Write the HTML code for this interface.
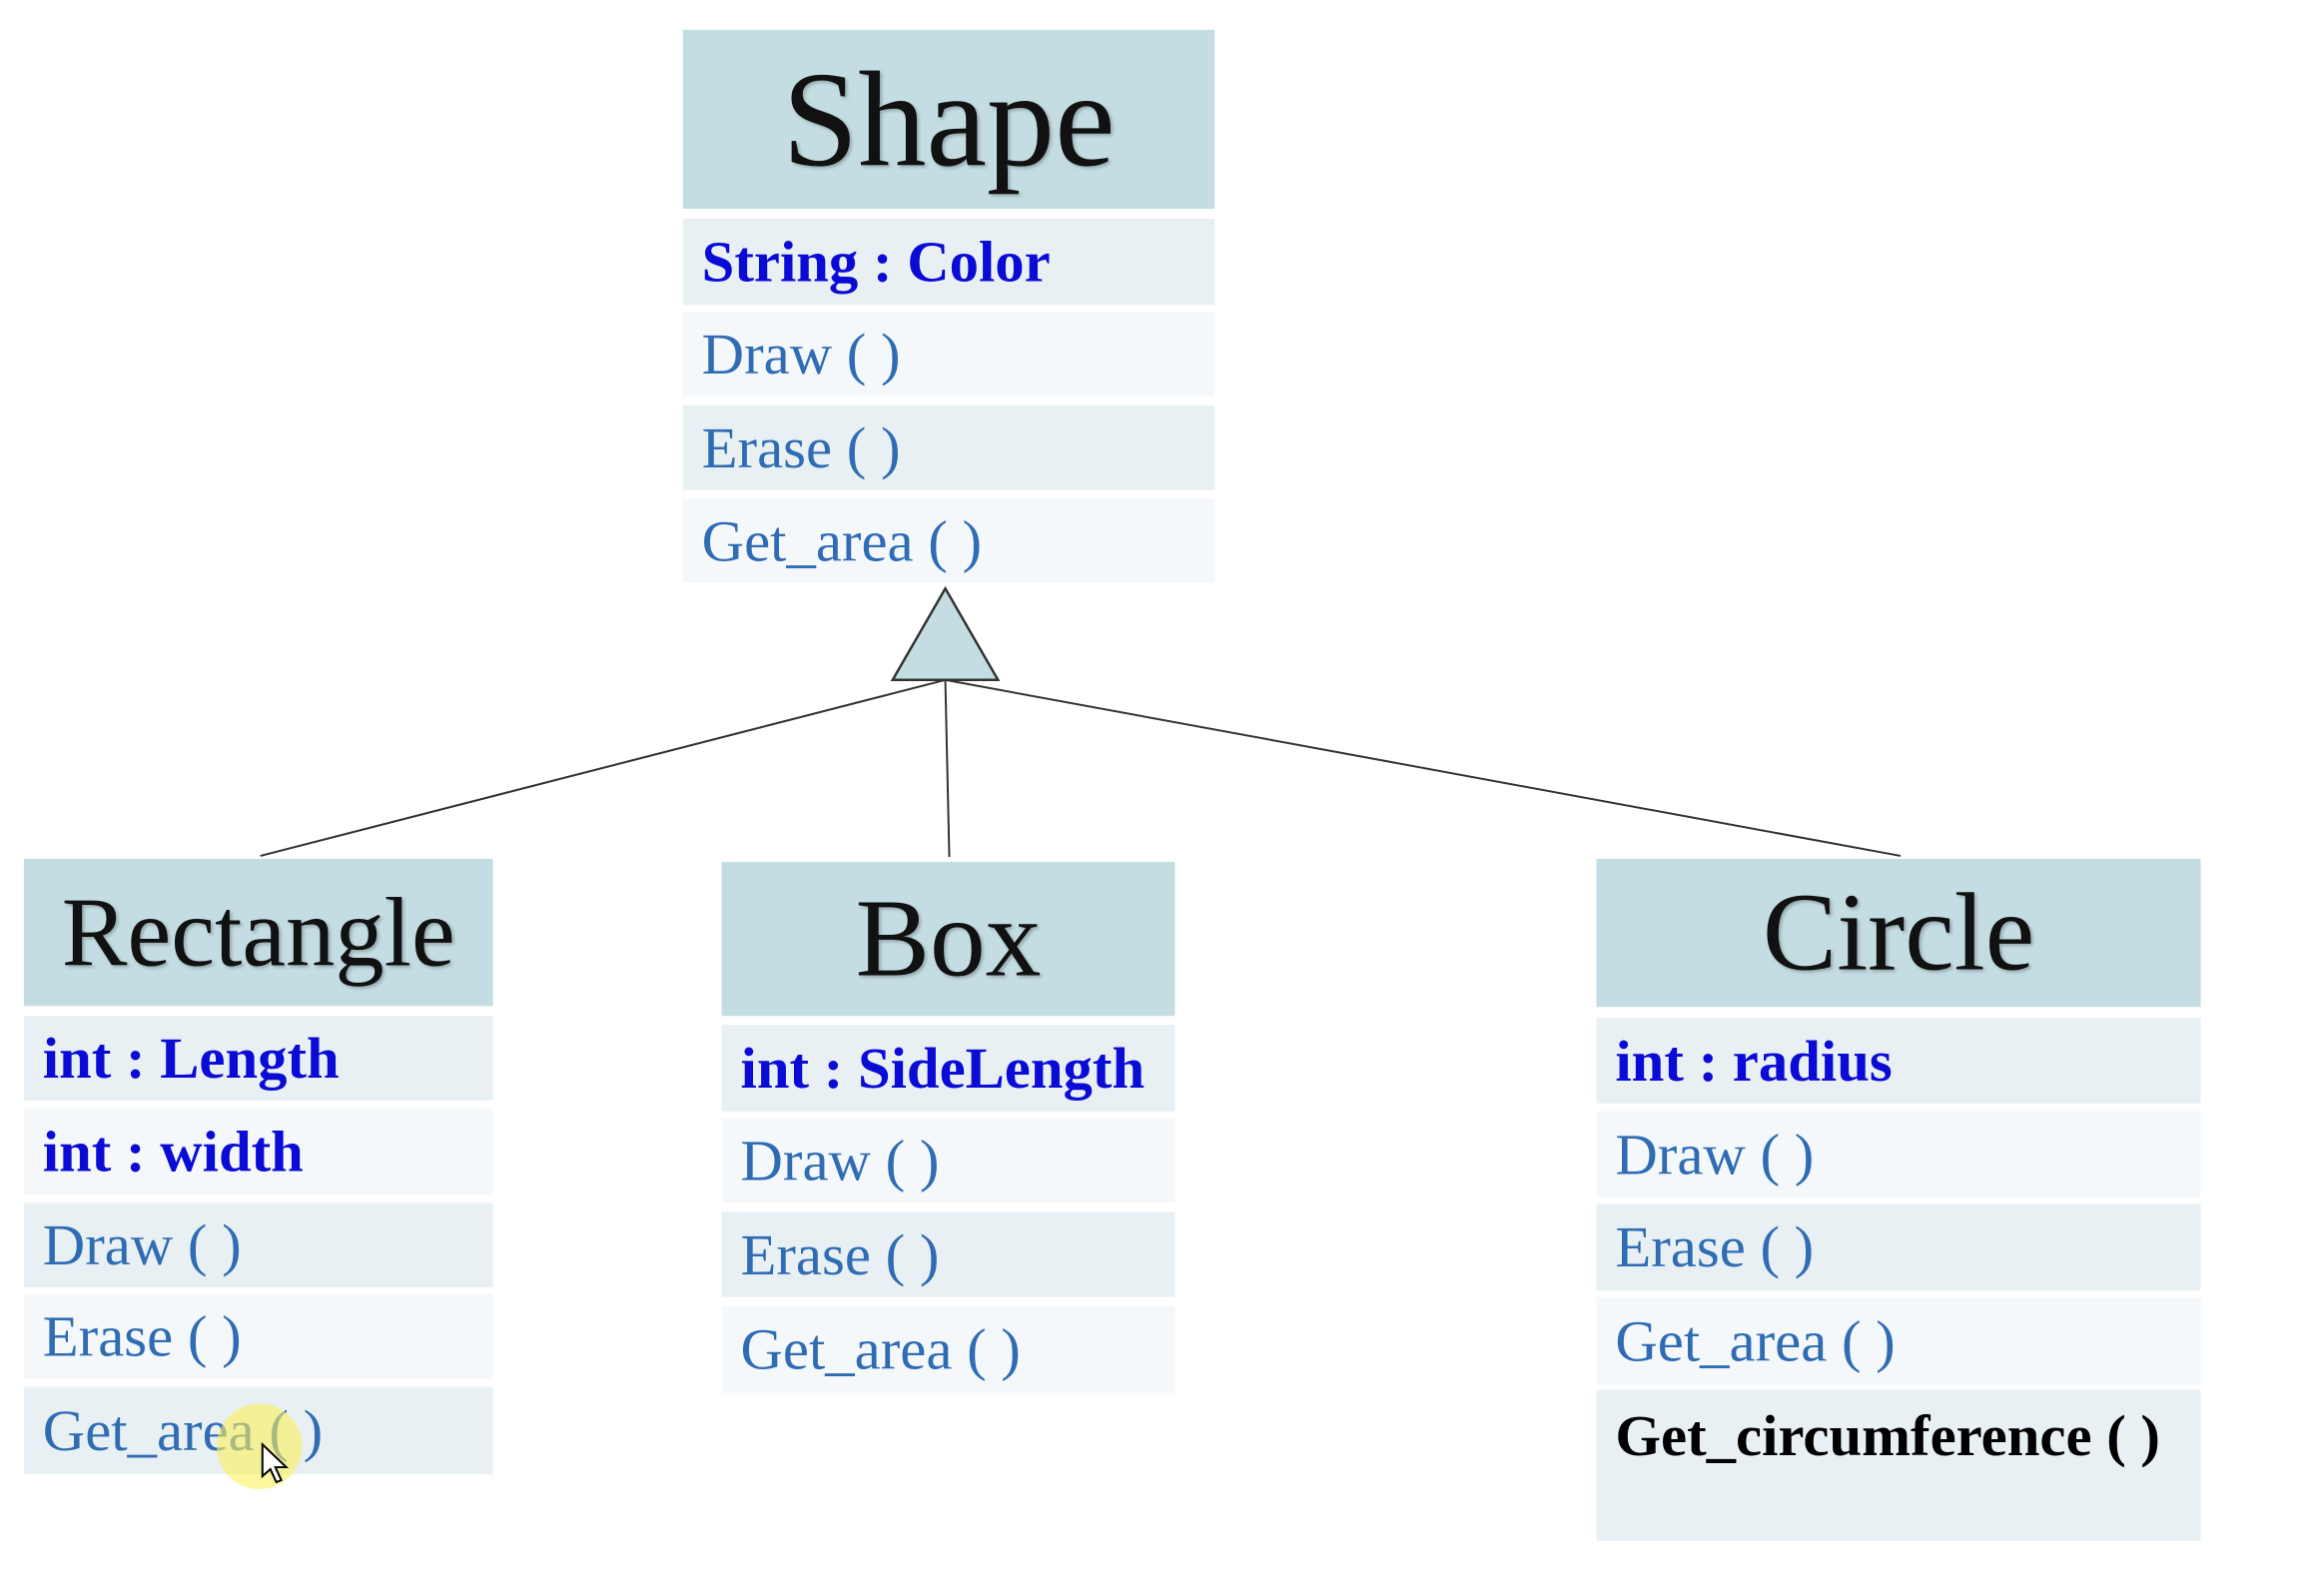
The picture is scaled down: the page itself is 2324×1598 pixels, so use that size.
<!DOCTYPE html>
<html><head><meta charset="utf-8"><style>
body{margin:0;width:2324px;height:1598px;background:#fff;position:relative;overflow:hidden;font-family:"Liberation Serif",serif}
#w{position:absolute;left:0;top:0;width:2324px;height:1598px;transform:scale(0.9953);transform-origin:0 0}
.h{position:absolute;background:#c4dde3;display:flex;align-items:center;justify-content:center;color:#111;text-shadow:2px 2px 3px rgba(0,0,0,.25)}
.r{position:absolute;display:flex;align-items:center;box-sizing:border-box;padding-left:19px;font-size:59px;color:#2f6cb3;white-space:nowrap}
.a{background:#e9f0f4}.b{background:#f4f8fb}
.f{color:#0b0bd6;font-weight:bold}
.k{color:#000;font-weight:bold}
</style></head><body><div id="w">
<svg style="position:absolute;left:0;top:0" width="2324" height="1598">
<line x1="951" y1="684" x2="262" y2="861" stroke="#333" stroke-width="2"/>
<line x1="951" y1="684" x2="955" y2="862" stroke="#333" stroke-width="2"/>
<line x1="951" y1="684" x2="1912" y2="861" stroke="#333" stroke-width="2"/>
<polygon points="951,592 898,684 1004,684" fill="#c4dde3" stroke="#333" stroke-width="2.5"/>
</svg>

<div class="h" style="left:687px;top:30px;width:535px;height:180px;font-size:137px">Shape</div>
<div class="r a f" style="left:687px;top:220px;width:535px;height:87px">String : Color</div>
<div class="r b" style="left:687px;top:314px;width:535px;height:85px">Draw ( )</div>
<div class="r a" style="left:687px;top:408px;width:535px;height:85px">Erase ( )</div>
<div class="r b" style="left:687px;top:502px;width:535px;height:84px">Get_area ( )</div>

<div class="h" style="left:24px;top:864px;width:472px;height:148px;font-size:99px">Rectangle</div>
<div class="r a f" style="left:24px;top:1022px;width:472px;height:85px">int : Length</div>
<div class="r b f" style="left:24px;top:1115px;width:472px;height:87px">int : width</div>
<div class="r a" style="left:24px;top:1210px;width:472px;height:85px">Draw ( )</div>
<div class="r b" style="left:24px;top:1302px;width:472px;height:85px">Erase ( )</div>
<div class="r a" style="left:24px;top:1395px;width:472px;height:88px">Get_area ( )</div>

<div class="h" style="left:726px;top:867px;width:456px;height:155px;font-size:112px">Box</div>
<div class="r a f" style="left:726px;top:1031px;width:456px;height:87px">int : SideLength</div>
<div class="r b" style="left:726px;top:1125px;width:456px;height:85px">Draw ( )</div>
<div class="r a" style="left:726px;top:1219px;width:456px;height:86px">Erase ( )</div>
<div class="r b" style="left:726px;top:1314px;width:456px;height:87px">Get_area ( )</div>

<div class="h" style="left:1606px;top:864px;width:608px;height:149px;font-size:112px">Circle</div>
<div class="r a f" style="left:1606px;top:1024px;width:608px;height:86px">int : radius</div>
<div class="r b" style="left:1606px;top:1118px;width:608px;height:86px">Draw ( )</div>
<div class="r a" style="left:1606px;top:1211px;width:608px;height:87px">Erase ( )</div>
<div class="r b" style="left:1606px;top:1305px;width:608px;height:88px">Get_area ( )</div>
<div class="r a k" style="left:1606px;top:1398px;width:608px;height:152px;align-items:flex-start;padding-top:12px">Get_circumference ( )</div>

<div style="position:absolute;left:218px;top:1412px;width:86px;height:86px;border-radius:50%;background:rgba(250,240,90,.6)"></div>
<svg style="position:absolute;left:262px;top:1451px" width="30" height="44"><polygon points="2,2 2,34 10,27 16,40 21,38 15,25 26,25" fill="#fff" stroke="#000" stroke-width="2"/></svg>
</div></body></html>
